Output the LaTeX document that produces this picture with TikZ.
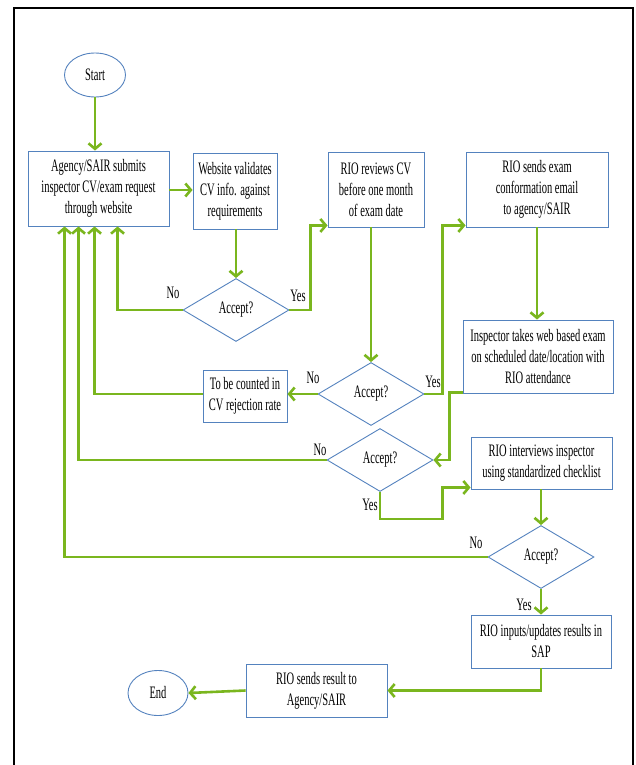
\documentclass[tikz,border=0pt]{standalone}
\usepackage{fontspec}
\setmainfont{Liberation Serif}[FakeStretch=0.6]
\usetikzlibrary{shapes.geometric,arrows.meta}
\definecolor{flowgreen}{RGB}{122,182,30}
\definecolor{edgeblue}{RGB}{84,130,190}
\begin{document}
\begin{tikzpicture}[x=1pt,y=-1pt,
  every node/.style={font=\fontsize{17.5}{21}\selectfont},
  box/.style={draw=edgeblue, line width=0.9pt, rectangle, align=center, inner sep=0pt},
  decision/.style={draw=edgeblue, line width=0.9pt, diamond, inner sep=0pt,
    minimum width=106pt, minimum height=63pt},
  terminal/.style={draw=edgeblue, line width=0.9pt, ellipse, inner sep=0pt,
    minimum width=61pt, minimum height=44pt},
  flow/.style={draw=flowgreen, line width=2.6pt, line join=miter,
    -{Straight Barb[length=5.5pt,width=13pt]}},
  lbl/.style={inner sep=0pt}]

\useasboundingbox (0,0) rectangle (635,765);

% page frame
\draw[line width=2pt] (13.5,767) -- (13.5,8.5) -- (633,8.5) -- (633,767);

% terminals
\node[terminal] (start) at (95,75) {Start};
\node[terminal, minimum width=60pt, minimum height=45pt] (end) at (158,693) {End};

% process boxes
\node[box, minimum width=141pt, minimum height=75pt] (submit) at (98.5,188.5)
  {Agency/SAIR submits\\inspector CV/exam request\\through website};
\node[box, minimum width=84pt, minimum height=76pt] (validate) at (235,191)
  {Website validates\\CV info. against\\requirements};
\node[box, minimum width=96pt, minimum height=75pt] (review) at (376,189.5)
  {RIO reviews CV\\before one month\\of exam date};
\node[box, minimum width=142pt, minimum height=75pt] (confirm) at (537,189.5)
  {RIO sends exam\\conformation email\\to agency/SAIR};
\node[box, minimum width=150pt, minimum height=73pt] (exam) at (538,356.5)
  {Inspector takes web based exam\\on scheduled date/location with\\RIO attendance};
\node[box, minimum width=84pt, minimum height=52pt] (reject) at (245,396)
  {To be counted in\\CV rejection rate};
\node[box, minimum width=141pt, minimum height=52pt] (interview) at (541.5,463)
  {RIO interviews inspector\\using standardized checklist};
\node[box, minimum width=140pt, minimum height=53pt] (sap) at (541,641.5)
  {RIO inputs/updates results in\\SAP};
\node[box, minimum width=141pt, minimum height=53pt] (result) at (316.5,690.5)
  {RIO sends result to\\Agency/SAIR};

% decisions
\node[decision] (d1) at (236,310) {Accept?};
\node[decision] (d2) at (371,394) {Accept?};
\node[decision] (d3) at (380,460) {Accept?};
\node[decision] (d4) at (541,557) {Accept?};

% return points under the submission box
\coordinate (r4) at ([xshift=37pt]submit.south west);
\coordinate (r3) at ([xshift=51pt]submit.south west);
\coordinate (r2) at ([xshift=67pt]submit.south west);
\coordinate (r1) at ([xshift=90pt]submit.south west);

% main flow
\draw[flow] (start.south) -- (start.south |- submit.north);
\draw[flow] ([yshift=-1.5pt]submit.east) -- ([yshift=-1.5pt]submit.east -| validate.west);
\draw[flow] (validate.south -| d1.north) -- (d1.north);
\draw[flow] (d1.east) -| ([xshift=-17pt,yshift=2pt]review.south west)
  -- ([yshift=2pt]review.south west);
\draw[flow] (review.south -| d2.north) -- (d2.north);
\draw[flow] (d2.east) -| ([xshift=-23pt,yshift=2pt]confirm.south west)
  -- ([yshift=2pt]confirm.south west);
\draw[flow] (confirm.south) -- (confirm.south |- exam.north);
\draw[flow] ([yshift=1pt]exam.south west) -- ++(-13,0) |- (d3.east);
\draw[flow] (d3.south) -- ++(0,27) -| ([xshift=-28pt,yshift=2pt]interview.south west)
  -- ([yshift=2pt]interview.south west);
\draw[flow] (interview.south -| d4.north) -- (d4.north);
\draw[flow] (d4.south) -- (d4.south |- sap.north);
\draw[flow] (sap.south) |- (result.east);
\draw[flow] (result.west) -- (end.east);

% rejections
\draw[flow] (d1.west) -| (r1);
\draw[flow] (d2.west) -- (d2.west -| reject.east);
\draw[flow] ([yshift=2pt]reject.west) -| (r2);
\draw[flow] (d3.west) -| (r3);
\draw[flow] (d4.west) -| (r4);

% branch labels
\node[lbl] (n1) at (173,293) {No};
\node[lbl] (y1) at (298,296) {Yes};
\node[lbl] (n2) at (313,378) {No};
\node[lbl] (y2) at (433,382) {Yes};
\node[lbl] (n3) at (320,450) {No};
\node[lbl] (y3) at (370,505) {Yes};
\node[lbl] (n4) at (476,543) {No};
\node[lbl] (y4) at (524,605) {Yes};
\end{tikzpicture}
\end{document}
